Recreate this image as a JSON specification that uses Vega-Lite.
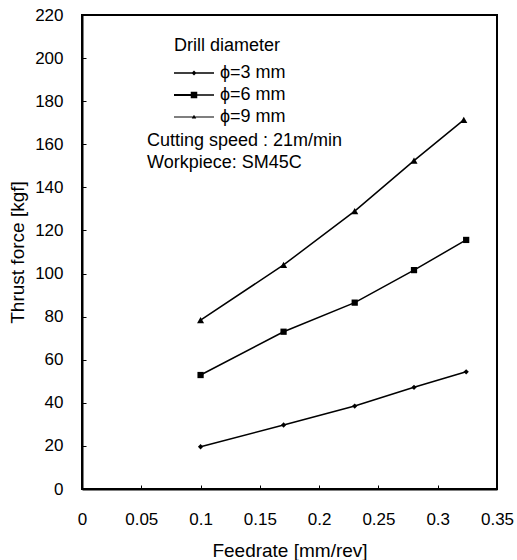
{
  "$schema": "https://vega.github.io/schema/vega-lite/v6.json",
  "width": 415,
  "height": 474,
  "autosize": "none",
  "padding": {"left": 82, "top": 15, "right": 20, "bottom": 71},
  "background": "white",
  "config": {
    "view": {"stroke": "black", "strokeWidth": 2},
    "font": "Liberation Sans",
    "axis": {
      "grid": false,
      "domainColor": "black",
      "domainWidth": 2,
      "tickColor": "black",
      "tickSize": -4,
      "labelColor": "black",
      "titleColor": "black",
      "labelFont": "Liberation Sans",
      "titleFont": "Liberation Sans",
      "labelFontSize": 17,
      "titleFontSize": 19,
      "titleFontWeight": "normal"
    }
  },
  "datasets": {
    "series": [
      {"feed": 0.10, "force": 19.6, "d": "ϕ=3 mm"},
      {"feed": 0.17, "force": 29.7, "d": "ϕ=3 mm"},
      {"feed": 0.23, "force": 38.5, "d": "ϕ=3 mm"},
      {"feed": 0.28, "force": 47.2, "d": "ϕ=3 mm"},
      {"feed": 0.324, "force": 54.4, "d": "ϕ=3 mm"},
      {"feed": 0.10, "force": 52.9, "d": "ϕ=6 mm"},
      {"feed": 0.17, "force": 73.0, "d": "ϕ=6 mm"},
      {"feed": 0.23, "force": 86.5, "d": "ϕ=6 mm"},
      {"feed": 0.28, "force": 101.6, "d": "ϕ=6 mm"},
      {"feed": 0.324, "force": 115.6, "d": "ϕ=6 mm"},
      {"feed": 0.10, "force": 78.4, "d": "ϕ=9 mm"},
      {"feed": 0.17, "force": 104.0, "d": "ϕ=9 mm"},
      {"feed": 0.23, "force": 129.0, "d": "ϕ=9 mm"},
      {"feed": 0.28, "force": 152.4, "d": "ϕ=9 mm"},
      {"feed": 0.322, "force": 171.3, "d": "ϕ=9 mm"}
    ],
    "notes": [
      {"note": "Cutting speed : 21m/min", "line": 1},
      {"note": "Workpiece: SM45C", "line": 2}
    ]
  },
  "layer": [
    {
      "data": {"name": "series"},
      "mark": {"type": "line", "color": "black", "strokeWidth": 1.5},
      "encoding": {
        "x": {
          "field": "feed", "type": "quantitative",
          "scale": {"domain": [0, 0.35], "nice": false, "zero": false},
          "axis": {
            "title": "Feedrate [mm/rev]",
            "values": [0, 0.05, 0.1, 0.15, 0.2, 0.25, 0.3, 0.35],
            "format": "~g",
            "labelPadding": 26,
            "titlePadding": 14,
            "labelFlush": false,
            "labelOverlap": false
          }
        },
        "y": {
          "field": "force", "type": "quantitative",
          "scale": {"domain": [0, 220], "nice": false},
          "axis": {
            "title": "Thrust force [kgf]",
            "values": [0, 20, 40, 60, 80, 100, 120, 140, 160, 180, 200, 220],
            "labelPadding": 23,
            "titlePadding": 7,
            "labelFlush": false,
            "labelOverlap": false
          }
        },
        "detail": {"field": "d"}
      }
    },
    {
      "data": {"name": "series"},
      "mark": {"type": "point", "filled": true, "color": "black", "opacity": 1},
      "encoding": {
        "x": {"field": "feed", "type": "quantitative"},
        "y": {"field": "force", "type": "quantitative"},
        "shape": {
          "field": "d", "type": "nominal",
          "scale": {"domain": ["ϕ=3 mm", "ϕ=6 mm", "ϕ=9 mm"], "range": ["diamond", "square", "triangle-up"]},
          "legend": null
        },
        "size": {
          "field": "d", "type": "nominal",
          "scale": {"domain": ["ϕ=3 mm", "ϕ=6 mm", "ϕ=9 mm"], "range": [28, 50, 20]},
          "legend": null
        }
      }
    },
    {
      "data": {"name": "series"},
      "transform": [{"filter": "datum.feed < 0"}],
      "mark": {"type": "point", "filled": true, "color": "black", "opacity": 1},
      "encoding": {
        "x": {"field": "feed", "type": "quantitative"},
        "y": {"field": "force", "type": "quantitative"},
        "shape": {
          "field": "d", "type": "nominal",
          "scale": {
            "domain": ["ϕ=3 mm", "ϕ=6 mm", "ϕ=9 mm"],
            "range": [
              "M-4,-0.13H4V0.13H-4ZM0,-0.5L0.5,0L0,0.5L-0.5,0Z",
              "M-4,-0.2H-0.6V0.2H-4ZM0.6,-0.13H4V0.13H0.6ZM-0.65,-0.65H0.65V0.65H-0.65Z",
              "M-4,-0.1H4V0.1H-4ZM0,-0.45L0.45,0.3H-0.45Z"
            ]
          },
          "legend": {
            "title": "Drill diameter",
            "orient": "none",
            "legendX": 92,
            "legendY": 22,
            "padding": 0,
            "titleFont": "Liberation Sans",
            "titleFontSize": 18,
            "titleFontWeight": "normal",
            "titleColor": "black",
            "titlePadding": 9,
            "labelFont": "Liberation Sans",
            "labelFontSize": 18,
            "labelColor": "black",
            "symbolSize": 100,
            "symbolOffset": 11,
            "labelOffset": 17,
            "rowPadding": 4,
            "symbolFillColor": "black",
            "symbolOpacity": 1
          }
        }
      }
    },
    {
      "data": {"name": "notes"},
      "transform": [{"filter": "datum.line == 1"}],
      "mark": {"type": "text", "align": "left", "baseline": "middle", "fontSize": 18, "font": "Liberation Sans", "color": "black"},
      "encoding": {
        "x": {"datum": 0.0548},
        "y": {"datum": 161.5},
        "text": {"field": "note"}
      }
    },
    {
      "data": {"name": "notes"},
      "transform": [{"filter": "datum.line == 2"}],
      "mark": {"type": "text", "align": "left", "baseline": "middle", "fontSize": 18, "font": "Liberation Sans", "color": "black"},
      "encoding": {
        "x": {"datum": 0.0548},
        "y": {"datum": 151.3},
        "text": {"field": "note"}
      }
    }
  ],
  "resolve": {"scale": {"shape": "independent"}, "legend": {"shape": "independent"}}
}
